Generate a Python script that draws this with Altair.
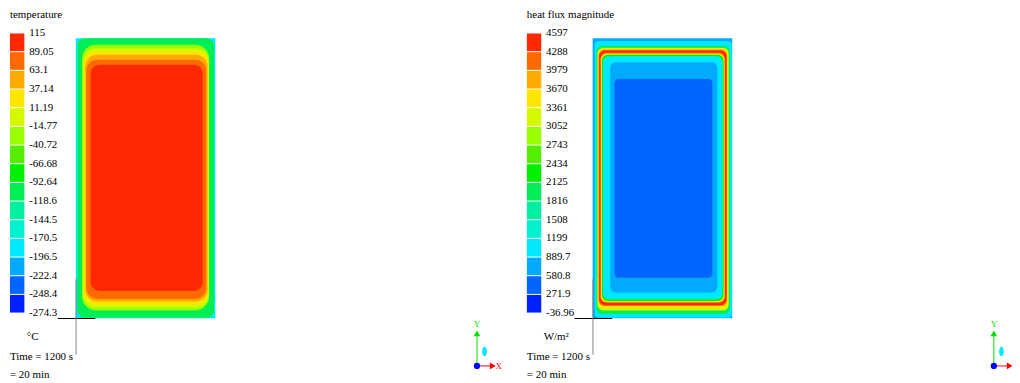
import altair as alt
import pandas as pd

# ---------------- data ----------------
# contour colour bands, index 0 = lowest (blue) ... 14 = highest (red)
BAND_COLORS = ["#0022FF", "#0066FF", "#00AAFF", "#00E8FF", "#00F0D0",
               "#00F0A0", "#00EE55", "#00F000", "#55EE00", "#99FF00",
               "#D4F800", "#FFE600", "#FFAA00", "#FF6A00", "#FF2800"]

TEMP_TITLE = "temperature"
TEMP_UNIT = "°C"
TEMP_LEVELS = ["115", "89.05", "63.1", "37.14", "11.19", "-14.77", "-40.72",
               "-66.68", "-92.64", "-118.6", "-144.5", "-170.5", "-196.5",
               "-222.4", "-248.4", "-274.3"]

FLUX_TITLE = "heat flux magnitude"
FLUX_UNIT = "W/m²"
FLUX_LEVELS = ["4597", "4288", "3979", "3670", "3361", "3052", "2743", "2434",
               "2125", "1816", "1508", "1199", "889.7", "580.8", "271.9", "-36.96"]

TIME_LINES = ["Time = 1200 s", "= 20 min"]

# contour bands (outer -> inner): colour index, inset from left/right/top/bottom edge, corner radius
TEMP_BAND = [3, 6, 9, 10, 11, 12, 13, 14]
TEMP_IN_L = [0, 1.7, 6.3, 7.3, 8.5, 9.5, 10.7, 15.0]
TEMP_IN_R = [0, 1.3, 6.2, 6.7, 7.2, 7.8, 9.3, 12.7]
TEMP_IN_T = [0, 0.0, 6.6, 10.0, 13.3, 16.6, 21.6, 26.6]
TEMP_IN_B = [0, 0.5, 8.0, 11.0, 14.0, 17.0, 19.5, 27.6]
TEMP_RAD = [0, 8, 14, 13, 12, 12, 11, 9]

FLUX_BAND = [2, 3, 6, 10, 11, 13, 14, 13, 11, 7, 4, 3, 2, 1]
FLUX_IN_L = [0, 2.0, 3.7, 4.8, 5.3, 6.0, 6.6, 7.8, 8.3, 9.3, 10.3, 11.3, 17.7, 22.0]
FLUX_IN_R = [0, 0.3, 2.3, 3.5, 4.3, 5.2, 5.8, 7.2, 7.7, 8.7, 9.7, 10.7, 15.0, 20.0]
FLUX_IN_T = [0, 2.7, 7.7, 9.5, 10.5, 11.5, 12.5, 14.7, 15.3, 16.7, 18.0, 19.3, 24.3, 41.0]
FLUX_IN_B = [0, 0.5, 4.3, 8.0, 10.5, 12.5, 13.5, 15.8, 16.3, 17.5, 19.0, 20.5, 26.0, 41.0]
FLUX_RAD = [0, 4, 6, 6, 6, 6, 6, 6, 6, 6, 6, 6, 6, 4]

# ---------------- layout (reference pixel frame) ----------------
W, H = 1012, 375
PANEL_DX = [0, 521]
DOM_L, DOM_R, DOM_T, DOM_B = 76.3, 217.0, 37.0, 319.3
LEG_X0, LEG_X1, LEG_TOP, LEG_STEP, LABEL_X = 10, 24.5, 31.7, 18.82, 29.3
FONT = "Liberation Serif, DejaVu Serif Condensed, serif"

panels = [
    dict(title=TEMP_TITLE, unit=TEMP_UNIT, levels=TEMP_LEVELS, band=TEMP_BAND,
         il=TEMP_IN_L, ir=TEMP_IN_R, it=TEMP_IN_T, ib=TEMP_IN_B, rad=TEMP_RAD),
    dict(title=FLUX_TITLE, unit=FLUX_UNIT, levels=FLUX_LEVELS, band=FLUX_BAND,
         il=FLUX_IN_L, ir=FLUX_IN_R, it=FLUX_IN_T, ib=FLUX_IN_B, rad=FLUX_RAD),
]

bands, legend, labels, texts, rules, marks, tri_txt = [], [], [], [], [], [], []
for pi, (p, dx) in enumerate(zip(panels, PANEL_DX)):
    for i, c in enumerate(p["band"]):
        bands.append(dict(x=DOM_L + dx + p["il"][i], x2=DOM_R + dx - p["ir"][i],
                          y=DOM_T + p["it"][i], y2=DOM_B - p["ib"][i],
                          c=BAND_COLORS[c], r=p["rad"][i]))
    for k in range(15):
        legend.append(dict(x=LEG_X0 + dx, x2=LEG_X1 + dx,
                           y=LEG_TOP + k * LEG_STEP + 0.5, y2=LEG_TOP + (k + 1) * LEG_STEP - 0.5,
                           c=BAND_COLORS[14 - k]))
    for k, t in enumerate(p["levels"]):
        labels.append(dict(x=LABEL_X + dx, y=LEG_TOP + k * LEG_STEP, t=t))
    texts.append(dict(x=10 + dx, y=14, t=p["title"]))
    texts.append(dict(x=27 + dx, y=338, t=p["unit"]))
    texts.append(dict(x=10 + dx, y=358, t=TIME_LINES[0]))
    texts.append(dict(x=10 + dx, y=376, t=TIME_LINES[1]))
    # model origin lines
    rules.append(dict(x=58 + dx, x2=96 + dx, y=319.5, y2=319.5, c="#000000"))
    rules.append(dict(x=76.6 + dx, x2=76.6 + dx, y=280, y2=356, c="#808080"))
    # coordinate triad
    ox, oy = 480.7 + dx, 367.3
    rules.append(dict(x=ox, x2=ox, y=oy, y2=337, c="#00E000"))
    rules.append(dict(x=ox, x2=ox + 14, y=oy, y2=oy, c="#FF0000"))
    marks.append(dict(x=ox, y=334.5, s="triangle-up", z=45, c="#00E000"))
    marks.append(dict(x=ox + 16, y=oy, s="triangle-right", z=45, c="#FF0000"))
    marks.append(dict(x=ox, y=oy, s="circle", z=40, c="#0000FF"))
    marks.append(dict(x=ox + 7.6, y=352.7, s="M0,-1A0.5,1,0,1,1,0,1A0.5,1,0,1,1,0,-1Z",
                      z=90, c="#00E8FF"))
    tri_txt.append(dict(x=ox, y=325, t="Y", c="#00E000"))
    if pi == 0:  # the second triad's X label lies beyond the picture's right edge
        tri_txt.append(dict(x=ox + 22, y=367, t="X", c="#FF0000"))

xs = alt.Scale(domain=[8, 8 + W], nice=False, zero=False)
ys = alt.Scale(domain=[8, 8 + H], nice=False, zero=False, reverse=True)


def X(f="x"):
    return alt.X(f"{f}:Q", scale=xs, axis=None)


def Y(f="y"):
    return alt.Y(f"{f}:Q", scale=ys, axis=None)


band_layer = alt.Chart(pd.DataFrame(bands)).mark_rect(
    cornerRadius={"expr": "datum.r"}).encode(
    x=X(), x2="x2:Q", y=Y(), y2="y2:Q", color=alt.Color("c:N", scale=None))

legend_layer = alt.Chart(pd.DataFrame(legend)).mark_rect().encode(
    x=X(), x2="x2:Q", y=Y(), y2="y2:Q", color=alt.Color("c:N", scale=None))

rule_layer = alt.Chart(pd.DataFrame(rules)).mark_rule(strokeWidth=1).encode(
    x=X(), x2="x2:Q", y=Y(), y2="y2:Q", color=alt.Color("c:N", scale=None))

label_layer = alt.Chart(pd.DataFrame(labels)).mark_text(
    align="left", baseline="middle", font=FONT, fontSize=11, color="#000000").encode(
    x=X(), y=Y(), text="t:N")

text_layer = alt.Chart(pd.DataFrame(texts)).mark_text(
    align="left", baseline="middle", font=FONT, fontSize=11, color="#000000").encode(
    x=X(), y=Y(), text="t:N")

mark_layer = alt.Chart(pd.DataFrame(marks)).mark_point(filled=True, opacity=1).encode(
    x=X(), y=Y(), shape=alt.Shape("s:N", scale=None), size=alt.Size("z:Q", scale=None),
    color=alt.Color("c:N", scale=None))

tri_layer = alt.Chart(pd.DataFrame(tri_txt)).mark_text(
    align="center", baseline="middle", font=FONT, fontSize=9).encode(
    x=X(), y=Y(), text="t:N", color=alt.Color("c:N", scale=None))

chart = alt.layer(band_layer, rule_layer, legend_layer, label_layer, text_layer,
                  mark_layer, tri_layer).properties(
    width=W, height=H, padding=0, autosize=alt.AutoSizeParams(type="none"),
    background="white").configure_view(stroke=None)

chart.save("out.html", embed_options={"renderer": "svg", "actions": False})
